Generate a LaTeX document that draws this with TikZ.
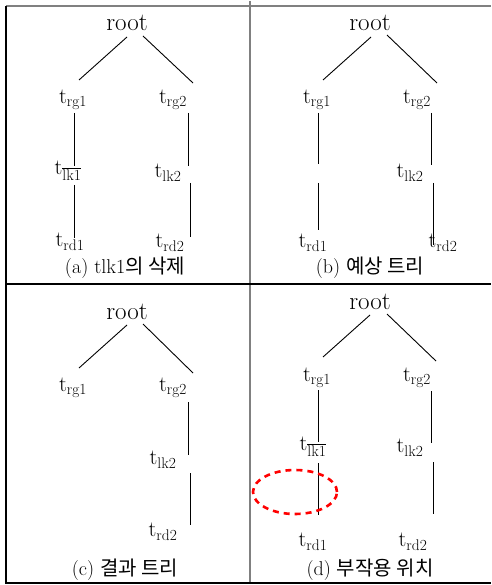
\documentclass[tikz,border=0pt]{standalone}
\usepackage{fontspec}
\newfontfamily\krfont{Noto Sans CJK KR}
\usetikzlibrary{calc,shapes.geometric}
\tikzset{
  lbl/.style={inner sep=0pt, font=\fontsize{22}{22}\selectfont},
  rootlbl/.style={inner sep=0pt, font=\fontsize{25}{25}\selectfont},
  captxt/.style={inner sep=0pt, font=\fontsize{20}{20}\selectfont},
  edge/.style={line width=0.9pt},
  frame/.style={line width=1.8pt},
  sidefx/.style={draw=red, line width=2.6pt, dash pattern=on 6pt off 5pt}
}
\newcommand{\tsub}[1]{$\mathrm{t}_{\mathrm{#1}}$}
\newcommand{\tsubo}[1]{$\mathrm{t}_{\overline{\mathrm{#1}}}$}
\begin{document}
\begin{tikzpicture}[x=1pt,y=-1pt]
\useasboundingbox (0,0) rectangle (491,585);
% frame
\draw[frame, gray] (6,6) -- (491,6);
\draw[frame, gray] (250,1) -- (250,584);
\draw[frame] (6,6) -- (6,583) -- (491,583);
\draw[frame] (6,284) -- (491,284);

% ---------- panel (a)
\node[rootlbl] (aroot) at (127,23) {root};
\node[lbl] (arg1) at (73,100) {\tsub{rg1}};
\node[lbl] (arg2) at (173,100) {\tsub{rg2}};
\node[lbl] (alk1) at (68,171) {\tsubo{lk1}};
\node[lbl] (alk2) at (168,173) {\tsub{lk2}};
\node[lbl] (ard1) at (70,242) {\tsub{rd1}};
\node[lbl] (ard2) at (170,243) {\tsub{rd2}};
\node[captxt] (acap) at (125,268) {(a) tlk1{\krfont 의 삭제}};
\draw[edge] ([shift={(0,14)}]aroot.center) -- ([shift={(6,-20)}]arg1.center);
\draw[edge] ([shift={(16,13)}]aroot.center) -- ([shift={(20,-17)}]arg2.center);
\draw[edge] ([shift={(1,13)}]arg1.center) -- ([shift={(6,-5)}]alk1.center);
\draw[edge] ([shift={(6,14)}]alk1.center) -- ([shift={(4,-4)}]ard1.center);
\draw[edge] ([shift={(15,13)}]arg2.center) -- ([shift={(20,-7)}]alk2.center);
\draw[edge] ([shift={(22,10)}]alk2.center) -- ([shift={(20,-6)}]ard2.center);

% ---------- panel (b)
\node[rootlbl] (broot) at (370,23) {root};
\node[lbl] (brg1) at (317,100) {\tsub{rg1}};
\node[lbl] (brg2) at (417,100) {\tsub{rg2}};
\coordinate (blk1) at (318,174);
\node[lbl] (blk2) at (410,173) {\tsub{lk2}};
\node[lbl] (brd1) at (313,243) {\tsub{rd1}};
\node[lbl] (brd2) at (443,243) {\tsub{rd2}};
\node[captxt] (bcap) at (370,268) {(b) {\krfont 예상 트리}};
\draw[edge] ([shift={(1,14)}]broot.center) -- ([shift={(6,-20)}]brg1.center);
\draw[edge] ([shift={(17,12)}]broot.center) -- ([shift={(20,-17)}]brg2.center);
\draw[edge] ([shift={(1,13)}]brg1.center) -- ([shift={(0,-10)}]blk1);
\draw[edge] ([shift={(0,9)}]blk1) -- ([shift={(5,-13)}]brd1.center);
\draw[edge] ([shift={(14,13)}]brg2.center) -- ([shift={(21,-8)}]blk2.center);
\draw[edge] ([shift={(23,10)}]blk2.center) -- ([shift={(-10,2)}]brd2.center);

% ---------- panel (c)
\node[rootlbl] (croot) at (127,312) {root};
\node[lbl] (crg1) at (73,388) {\tsub{rg1}};
\node[lbl] (crg2) at (173,388) {\tsub{rg2}};
\node[lbl] (clk2) at (163,460) {\tsub{lk2}};
\node[lbl] (crd2) at (163,532) {\tsub{rd2}};
\node[captxt] (ccap) at (125,570) {(c) {\krfont 결과 트리}};
\draw[edge] ([shift={(0,13)}]croot.center) -- ([shift={(6,-20)}]crg1.center);
\draw[edge] ([shift={(16,12)}]croot.center) -- ([shift={(20,-15)}]crg2.center);
\draw[edge] ([shift={(15,14)}]crg2.center) -- ([shift={(25,-5)}]clk2.center);
\draw[edge] ([shift={(27,13)}]clk2.center) -- ([shift={(27,-7)}]crd2.center);

% ---------- panel (d)
\node[rootlbl] (droot) at (370,302) {root};
\node[lbl] (drg1) at (317,378) {\tsub{rg1}};
\node[lbl] (drg2) at (417,378) {\tsub{rg2}};
\node[lbl] (dlk1) at (313,447) {\tsubo{lk1}};
\node[lbl] (dlk2) at (410,448) {\tsub{lk2}};
\node[lbl] (drd1) at (313,542) {\tsub{rd1}};
\node[lbl] (drd2) at (413,542) {\tsub{rd2}};
\node[captxt] (dcap) at (370,570) {(d) {\krfont 부작용 위치}};
\draw[edge] ([shift={(0,13)}]droot.center) -- ([shift={(6,-21)}]drg1.center);
\draw[edge] ([shift={(17,12)}]droot.center) -- ([shift={(19,-17)}]drg2.center);
\draw[edge] ([shift={(1,12)}]drg1.center) -- ([shift={(5,-5)}]dlk1.center);
\draw[edge] ([shift={(5,16)}]dlk1.center) -- ([shift={(5,-27)}]drd1.center);
\draw[edge] ([shift={(14,13)}]drg2.center) -- ([shift={(21,-5)}]dlk2.center);
\draw[edge] ([shift={(23,14)}]dlk2.center) -- ([shift={(20,-28)}]drd2.center);
\node[sidefx, ellipse, minimum width=84pt, minimum height=44pt, inner sep=0pt] (sfx) at (295,492) {};
\end{tikzpicture}
\end{document}
